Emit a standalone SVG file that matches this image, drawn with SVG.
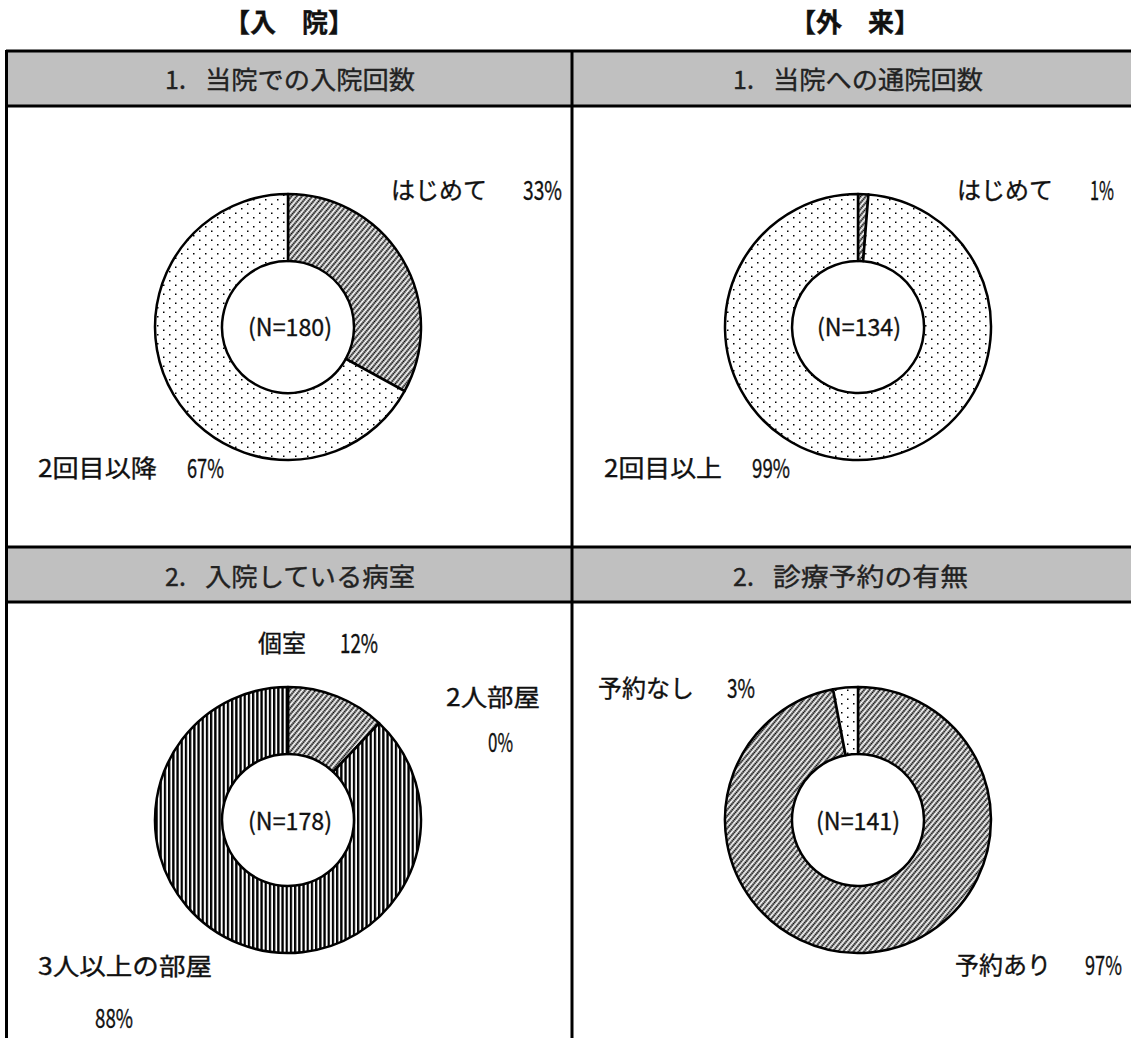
<svg xmlns="http://www.w3.org/2000/svg" width="1131" height="1038" viewBox="0 0 1131 1038">
<style>
.t{font-family:"Noto Sans CJK JP","Noto Sans",sans-serif;fill:#111;stroke:#111;stroke-width:0.35}
.lbl{font-size:24px}
.num{font-size:26px}
.hd{font-size:25px;fill:#222;stroke:#222}
.ttl{font-size:26px;font-weight:bold}
.cn{font-size:24px}
.seg{stroke:#000;stroke-width:2.5;stroke-linejoin:round}
.frame{fill:none;stroke:#000;stroke-width:3}
.hb{fill:#c0c0c0}
</style>
<defs>
<pattern id="dots" patternUnits="userSpaceOnUse" width="12" height="9">
<rect width="12" height="9" fill="#fff"/>
<rect x="1" y="1" width="1.5" height="1.5" fill="#000"/>
<rect x="7" y="5.5" width="1.5" height="1.5" fill="#000"/>
</pattern>
<pattern id="hatch" patternUnits="userSpaceOnUse" width="4" height="4" patternTransform="rotate(-50)">
<rect width="4" height="4" fill="#fff"/>
<line x1="0" y1="1.5" x2="4" y2="1.5" stroke="#000" stroke-width="1.8" stroke-dasharray="1.6 0.4"/>
</pattern>
<pattern id="vlines" patternUnits="userSpaceOnUse" width="4.2" height="10">
<rect width="4.2" height="10" fill="#fff"/>
<rect x="0" y="0" width="2.3" height="10" fill="#000"/>
</pattern>
</defs>

<g id="titles">
<text class="t ttl" x="289" y="32" text-anchor="middle">【入　院】</text>
<text class="t ttl" x="855" y="32" text-anchor="middle">【外　来】</text>
</g>

<g id="frame">
<rect class="hb" x="7" y="52" width="1124" height="54"/>
<rect class="hb" x="7" y="548" width="1124" height="54"/>
<line class="frame" x1="6" y1="51" x2="1131" y2="51"/>
<line class="frame" x1="6" y1="106" x2="1131" y2="106"/>
<line class="frame" x1="6" y1="547" x2="1131" y2="547"/>
<line class="frame" x1="6" y1="602" x2="1131" y2="602"/>
<line class="frame" x1="6.5" y1="50" x2="6.5" y2="1038"/>
<line class="frame" x1="572" y1="50" x2="572" y2="1038"/>
</g>

<g id="headers">
<text class="t hd" x="165" y="89">1.</text>
<text class="t hd" x="205" y="89" textLength="210" lengthAdjust="spacingAndGlyphs">当院での入院回数</text>
<text class="t hd" x="733" y="89">1.</text>
<text class="t hd" x="773" y="89" textLength="210" lengthAdjust="spacingAndGlyphs">当院への通院回数</text>
<text class="t hd" x="165" y="586">2.</text>
<text class="t hd" x="205" y="586" textLength="210" lengthAdjust="spacingAndGlyphs">入院している病室</text>
<text class="t hd" x="733" y="586">2.</text>
<text class="t hd" x="773" y="586" textLength="195" lengthAdjust="spacingAndGlyphs">診療予約の有無</text>
</g>

<g id="chart1">
<path class="seg" fill="url(#hatch)" d="M288,194 A133,133 0 0 1 404.55,391.08 L345.84,358.80 A66,66 0 0 0 288,261 Z"/>
<path class="seg" fill="url(#dots)" d="M404.55,391.08 A133,133 0 1 1 288,194 L288,261 A66,66 0 1 0 345.84,358.80 Z"/>
<text class="t cn" x="248" y="336" textLength="84" lengthAdjust="spacingAndGlyphs">(N=180)</text>
<text class="t lbl" x="391" y="199">はじめて</text>
<text class="t num" x="523" y="200" textLength="39" lengthAdjust="spacingAndGlyphs">33%</text>
<text class="t lbl" x="38" y="477" textLength="119" lengthAdjust="spacingAndGlyphs">2回目以降</text>
<text class="t num" x="187" y="478" textLength="37" lengthAdjust="spacingAndGlyphs">67%</text>
</g>

<g id="chart2">
<path class="seg" fill="url(#hatch)" d="M858,194 A133,133 0 0 1 868.43,194.41 L863.18,261.20 A66,66 0 0 0 858,261 Z"/>
<path class="seg" fill="url(#dots)" d="M868.43,194.41 A133,133 0 1 1 858,194 L858,261 A66,66 0 1 0 863.18,261.20 Z"/>
<text class="t cn" x="817" y="336" textLength="84" lengthAdjust="spacingAndGlyphs">(N=134)</text>
<text class="t lbl" x="957" y="199">はじめて</text>
<text class="t num" x="1090" y="200" textLength="24" lengthAdjust="spacingAndGlyphs">1%</text>
<text class="t lbl" x="604" y="477" textLength="118" lengthAdjust="spacingAndGlyphs">2回目以上</text>
<text class="t num" x="752" y="478" textLength="38" lengthAdjust="spacingAndGlyphs">99%</text>
</g>

<g id="chart3">
<path class="seg" fill="url(#hatch)" d="M288,687 A133,133 0 0 1 379.04,723.04 L333.18,771.89 A66,66 0 0 0 288,754 Z"/>
<path class="seg" fill="url(#vlines)" d="M379.04,723.04 A133,133 0 1 1 288,687 L288,754 A66,66 0 1 0 333.18,771.89 Z"/>
<text class="t cn" x="248" y="830" textLength="84" lengthAdjust="spacingAndGlyphs">(N=178)</text>
<text class="t lbl" x="258" y="652">個室</text>
<text class="t num" x="340" y="653" textLength="38" lengthAdjust="spacingAndGlyphs">12%</text>
<text class="t lbl" x="446" y="706" textLength="94" lengthAdjust="spacingAndGlyphs">2人部屋</text>
<text class="t num" x="488" y="752" textLength="25" lengthAdjust="spacingAndGlyphs">0%</text>
<text class="t lbl" x="38" y="975" textLength="174" lengthAdjust="spacingAndGlyphs">3人以上の部屋</text>
<text class="t num" x="95" y="1028" textLength="38" lengthAdjust="spacingAndGlyphs">88%</text>
</g>

<g id="chart4">
<path class="seg" fill="url(#hatch)" d="M858,687 A133,133 0 1 1 833.08,689.35 L845.63,755.17 A66,66 0 1 0 858,754 Z"/>
<path class="seg" fill="url(#dots)" d="M833.08,689.35 A133,133 0 0 1 858,687 L858,754 A66,66 0 0 0 845.63,755.17 Z"/>
<text class="t cn" x="816" y="830" textLength="84" lengthAdjust="spacingAndGlyphs">(N=141)</text>
<text class="t lbl" x="598" y="697">予約なし</text>
<text class="t num" x="727" y="698" textLength="28" lengthAdjust="spacingAndGlyphs">3%</text>
<text class="t lbl" x="955" y="974">予約あり</text>
<text class="t num" transform="translate(1085,975) scale(0.7,1)">97%</text>
</g>
</svg>
